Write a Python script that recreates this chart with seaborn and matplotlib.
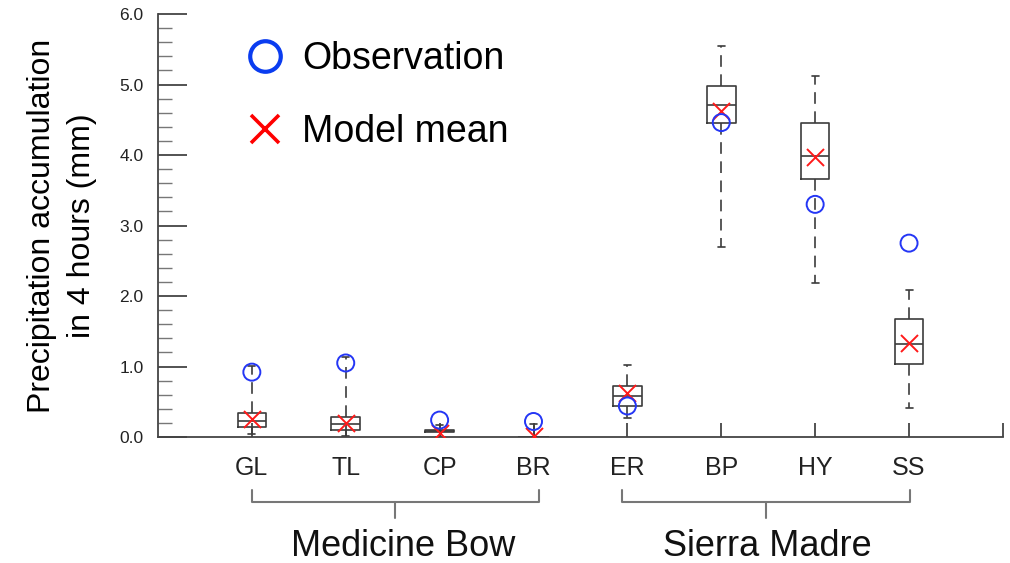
import numpy as np
import pandas as pd
import matplotlib
matplotlib.use("Agg")
import matplotlib.pyplot as plt
import matplotlib.transforms as mtransforms
from matplotlib.lines import Line2D
from matplotlib.ticker import MultipleLocator, FormatStrFormatter
import seaborn as sns

# ---------------- data ----------------
sites = ["GL", "TL", "CP", "BR", "ER", "BP", "HY", "SS"]
whisker_low = [0.04, 0.01, 0.00, 0.00, 0.27, 2.70, 2.18, 0.41]
quartile_1 = [0.14, 0.10, 0.075, 0.00, 0.44, 4.46, 3.66, 1.04]
median = [0.23, 0.18, 0.09, 0.00, 0.58, 4.71, 3.99, 1.32]
quartile_3 = [0.34, 0.28, 0.105, 0.00, 0.73, 4.98, 4.45, 1.68]
whisker_high = [1.01, 1.14, 0.17, 0.19, 1.02, 5.54, 5.12, 2.08]
model_mean = [0.26, 0.20, 0.06, 0.02, 0.62, 4.63, 3.97, 1.34]
observation = [0.92, 1.05, 0.24, 0.22, 0.44, 4.46, 3.30, 2.75]
groups = ["Medicine Bow", "Sierra Madre"]
group_members = [["GL", "TL", "CP", "BR"], ["ER", "BP", "HY", "SS"]]
y_ticks = [0.0, 1.0, 2.0, 3.0, 4.0, 5.0, 6.0]

# long-form table of five-number summaries per site
rows = []
for i, s in enumerate(sites):
    for v in (whisker_low[i], quartile_1[i], median[i], quartile_3[i], whisker_high[i]):
        rows.append({"site": s, "value": v})
df = pd.DataFrame(rows)

# ---------------- style ----------------
sns.set_style("white")
plt.rcParams["font.family"] = ["Liberation Sans", "DejaVu Sans"]

BOX = "#3c3c3c"
RED = "#ff1a1a"
BLUE = "#2436f5"
AXC = "#444444"

fig = plt.figure(figsize=(10.1, 5.63), dpi=100)
ax = fig.add_axes([0.1564, 0.2238, 0.8366, 0.7513])

sns.boxplot(data=df, x="site", y="value", order=sites, ax=ax,
            fill=False, color=BOX, linewidth=1.2, width=0.305,
            whis=(0, 100), showfliers=False,
            whiskerprops={"linestyle": (0, (7, 4.5)), "color": BOX},
            capprops={"color": BOX}, capwidths=0.075)

pos = np.arange(len(sites))
sns.scatterplot(x=pos, y=model_mean, marker="x", color=RED, s=150,
                linewidth=1.4, ax=ax, zorder=4)
sns.scatterplot(x=pos, y=observation, marker="o", color=BLUE, s=150,
                linewidth=1.4, ax=ax, zorder=5)
obs_coll = ax.collections[-1]
obs_coll.set_facecolor("none")
obs_coll.set_edgecolor(BLUE)

# ---------------- axes ----------------
ax.set_xlim(-1, len(sites))
ax.set_ylim(0, 6)
ax.set_xticks(np.arange(len(sites) + 1))
ax.set_xticklabels(sites + [""])
ax.set_xlabel("")
ax.set_yticks(y_ticks)
ax.yaxis.set_major_formatter(FormatStrFormatter("%.1f"))
ax.yaxis.set_minor_locator(MultipleLocator(0.2))

for side in ("top", "right"):
    ax.spines[side].set_visible(False)
for side in ("left", "bottom"):
    ax.spines[side].set_color(AXC)
    ax.spines[side].set_linewidth(1.3)

ax.tick_params(axis="y", which="major", left=True, direction="in", length=21,
               width=1.3, color=AXC, labelsize=12.5, labelcolor="#222222", pad=10.5)
ax.tick_params(axis="y", which="minor", left=True, direction="in", length=10,
               width=1.0, color="#777777")
ax.tick_params(axis="x", which="major", bottom=True, direction="in", length=10,
               width=1.3, color=AXC, labelsize=18, labelcolor="#222222", pad=14)
ax.tick_params(axis="x", which="minor", bottom=False)

ax.set_ylabel("Precipitation accumulation\nin 4 hours (mm)", fontsize=23,
              linespacing=1.45, va="center", ha="center", color="black")
ax.yaxis.set_label_coords(-0.1135, 0.5)

# ---------------- legend ----------------
h_obs = Line2D([], [], linestyle="none", marker="o", markersize=22,
               markerfacecolor="none", markeredgecolor="#0a3cf0", markeredgewidth=3)
h_mean = Line2D([], [], linestyle="none", marker="x", markersize=20,
                color="#ff0000", markeredgewidth=2.6)
ax.legend([h_obs, h_mean], ["Observation", "Model mean"], loc="upper left",
          bbox_to_anchor=(0.105, 0.936), frameon=False, fontsize=27,
          handlelength=1.0, handletextpad=0.47, labelspacing=0.99,
          borderpad=0, borderaxespad=0, labelcolor="black")

# ---------------- group brackets ----------------
trans = mtransforms.blended_transform_factory(ax.transData, ax.transAxes)
y_top, y_bar, y_tip, y_txt = -0.125, -0.154, -0.192, -0.281
bracket_pad = [(0.0, 0.06), (0.06, 0.01)]
label_shift = [0.08, 0.02]
for name, members, (pl, pr), dx in zip(groups, group_members, bracket_pad, label_shift):
    x0 = sites.index(members[0]) - pl
    x1 = sites.index(members[-1]) + pr
    xc = (x0 + x1) / 2
    ax.plot([x0, x0, x1, x1], [y_top, y_bar, y_bar, y_top], color="#777777",
            lw=1.5, transform=trans, clip_on=False, solid_joinstyle="round")
    ax.plot([xc, xc], [y_bar, y_tip], color="#777777", lw=1.5,
            transform=trans, clip_on=False)
    ax.text(xc + dx, y_txt, name, transform=trans, ha="center", va="baseline",
            fontsize=26, color="#111111")

fig.savefig("out.png", dpi=100)
